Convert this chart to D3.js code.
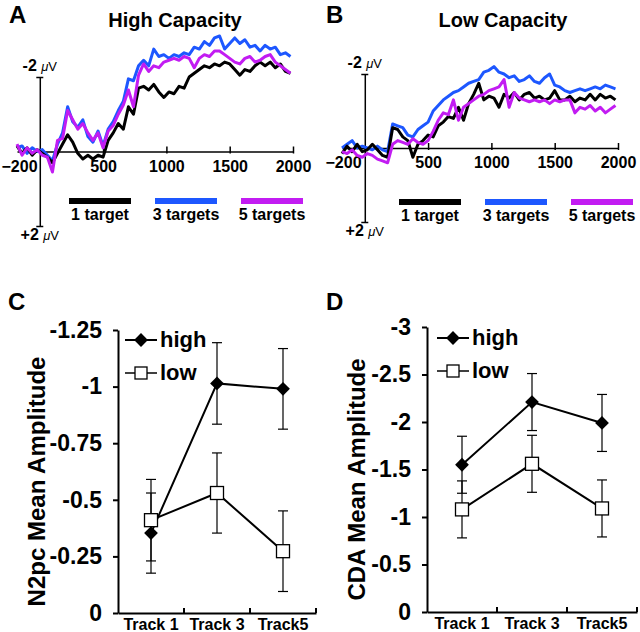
<!DOCTYPE html>
<html><head><meta charset="utf-8">
<script src="https://cdn.jsdelivr.net/npm/d3@7"></script>
<style>body{margin:0;background:#fff}svg{display:block;font-family:"Liberation Sans",Arial,sans-serif}</style>
</head><body><svg id="c" width="640" height="632"></svg>
<script>
// ---------- DATA ----------
const times = [-180,-140,-100,-60,-20,20,60,100,140,180,220,260,300,340,380,420,460,500,540,580,620,660,700,740,780,820,860,900,940,980,1020,1060,1100,1140,1180,1220,1260,1300,1340,1380,1420,1460,1500,1540,1580,1620,1660,1700,1740,1780,1820,1860,1900,1940,1980];
const seriesNames = ["1 target","3 targets","5 targets"];
const seriesColors = ["#000000","#1d57ff","#c21cf2"];
// High capacity (µV, negative plotted up)
const highOne = [-0.15,0.05,-0.1,0.1,-0.05,0.05,0.15,0.3,0.05,-0.2,-0.45,-0.25,0.05,0.2,0.1,0.2,0.1,0.15,-0.3,-0.5,-0.75,-0.6,-1.2,-1.0,-1.7,-1.75,-1.65,-1.8,-1.6,-1.45,-1.6,-1.55,-1.75,-1.7,-2.0,-2.1,-2.2,-2.3,-2.25,-2.35,-2.3,-2.4,-2.35,-2.2,-2.05,-2.2,-2.15,-2.3,-2.4,-2.3,-2.4,-2.25,-2.35,-2.15,-2.1];
const highThree = [-0.1,-0.15,0.05,-0.1,0.0,-0.05,0.1,0.25,-0.2,-0.5,-1.2,-0.8,-0.65,-0.85,-0.4,-0.25,-0.55,-0.15,-0.6,-0.8,-1.1,-1.35,-1.95,-1.9,-2.3,-2.45,-2.3,-2.75,-2.55,-2.6,-2.5,-2.6,-2.55,-2.65,-2.6,-2.8,-2.75,-2.95,-2.85,-3.05,-3.1,-2.75,-2.9,-3.05,-2.9,-3.0,-2.8,-2.85,-2.7,-2.85,-2.75,-2.8,-2.6,-2.65,-2.55];
const highFive = [-0.2,0.1,-0.1,0.05,-0.05,0.1,0.15,0.55,-0.3,-0.35,-1.1,-0.85,-0.6,-0.75,-0.5,-0.3,-0.5,-0.1,-0.55,-0.7,-1.0,-1.25,-1.65,-1.2,-2.05,-2.35,-2.15,-2.3,-2.25,-2.4,-2.45,-2.5,-2.45,-2.55,-2.5,-2.25,-2.5,-2.6,-2.55,-2.7,-2.7,-2.6,-2.5,-2.4,-2.35,-2.5,-2.55,-2.4,-2.45,-2.55,-2.6,-2.4,-2.3,-2.2,-2.1];
// Low capacity
const lowOne = [0.15,-0.05,0.1,-0.1,0.1,0.05,-0.1,0.05,0.2,0.25,-0.55,-0.5,-0.3,-0.2,0.25,-0.1,-0.2,-0.35,-0.3,-0.6,-0.7,-0.85,-0.8,-1.1,-0.75,-1.2,-1.45,-1.75,-1.3,-1.4,-1.35,-1.1,-1.45,-1.35,-1.5,-1.3,-1.45,-1.5,-1.35,-1.4,-1.3,-1.35,-1.55,-1.3,-1.3,-1.4,-1.25,-1.35,-1.3,-1.45,-1.3,-1.45,-1.35,-1.4,-1.3];
const lowThree = [0.0,-0.1,-0.2,0.0,-0.05,0.0,0.05,-0.05,0.05,0.1,-0.65,-0.6,-0.55,-0.35,-0.3,-0.5,-0.6,-0.7,-1.0,-1.15,-1.3,-1.4,-1.5,-1.55,-1.65,-1.75,-1.8,-1.85,-2.05,-2.1,-2.2,-2.05,-2.0,-1.9,-1.95,-1.8,-1.85,-1.95,-1.8,-1.75,-1.9,-2.0,-1.7,-1.65,-1.55,-1.5,-1.55,-1.6,-1.55,-1.6,-1.65,-1.6,-1.7,-1.65,-1.6];
const lowFive = [0.1,0.15,0.05,0.2,0.25,0.15,0.2,0.3,0.35,0.4,-0.1,-0.2,-0.15,-0.1,-0.25,-0.15,-0.1,-0.2,-0.45,-0.75,-0.95,-0.9,-1.3,-0.75,-1.1,-1.2,-1.3,-1.4,-1.45,-1.55,-1.6,-1.65,-1.85,-1.1,-1.5,-1.35,-1.3,-1.25,-1.3,-1.25,-1.3,-1.2,-1.3,-1.25,-1.3,-1.3,-0.95,-1.1,-1.05,-1.15,-1.0,-1.1,-0.95,-1.05,-1.15];
const xTickValues = [-200,500,1000,1500,2000];

// Panels C / D
const tracks = ["Track 1","Track 3","Track5"];
const n2pcHigh = [-0.353,-1.014,-0.99];
const n2pcHighErr = [0.177,0.18,0.178];
const n2pcLow = [-0.41,-0.53,-0.273];
const n2pcLowErr = [0.18,0.177,0.178];
const n2pcTicks = [0,-0.25,-0.5,-0.75,-1,-1.25];
const cdaHigh = [-1.55,-2.21,-1.99];
const cdaHighErr = [0.3,0.3,0.3];
const cdaLow = [-1.08,-1.56,-1.09];
const cdaLowErr = [0.3,0.3,0.3];
const cdaTicks = [0,-0.5,-1,-1.5,-2,-2.5,-3];

// ---------- DRAW ----------
const svg = d3.select("#c");
svg.append("rect").attr("width",640).attr("height",632).attr("fill","#fff");
const FONT = "'Liberation Sans',Arial,sans-serif";

function panelLetter(t,x,y){
  svg.append("text").attr("x",x).attr("y",y).attr("font-size",24).attr("font-weight","bold").attr("fill","#000").text(t);
}

function erpPanel(o){
  const g = svg.append("g");
  const x = d3.scaleLinear().domain([-180,2000]).range([o.x0,o.x1]);
  const y = d3.scaleLinear().domain([-2,2]).range([o.yTop,o.yBot]);
  g.append("text").attr("x",o.titleX).attr("y",27).attr("text-anchor","middle")
   .attr("font-size",20).attr("font-weight","bold").text(o.title);
  const ax = d3.axisBottom(x).tickValues(xTickValues).tickFormat(d3.format("d")).tickSizeInner(-5).tickSizeOuter(0).tickPadding(9);
  const axg = g.append("g").attr("transform",`translate(0,${y(0)})`).call(ax);
  axg.select(".domain").attr("stroke-width",1.5);
  axg.selectAll(".tick line").attr("stroke-width",1.5).attr("y2",-5).attr("y1",2);
  axg.selectAll(".tick text").attr("font-size",16).attr("font-weight","bold").attr("font-family",FONT).attr("fill","#000");
  const first = axg.selectAll(".tick").filter(d=>d===-200);
  first.select("line").remove();
  first.select("text").attr("text-anchor","start").attr("x",o.x0 - x(-200) >= 0 ? o.firstX - x(-200) : 0);
  const ay = d3.axisLeft(y).tickValues([-2,2]).tickFormat("").tickSizeOuter(0).tickSizeInner(3);
  const ayg = g.append("g").attr("transform",`translate(${x(0)},0)`).call(ay);
  ayg.select(".domain").attr("stroke-width",1.5);
  ayg.selectAll(".tick line").attr("x1",3.5).attr("x2",-3.5).attr("stroke-width",1.5);
  function uv(txt,yy){
    const t = g.append("text").attr("x",x(0)).attr("y",yy).attr("text-anchor","middle").attr("font-size",16).attr("font-weight","bold");
    t.append("tspan").text(txt+" ");
    t.append("tspan").attr("font-size",13).attr("font-style","italic").attr("font-weight","normal").text("μ");
    t.append("tspan").attr("font-size",13).attr("font-weight","normal").text("V");
  }
  uv("-2",y(-2)-6);
  uv("+2",y(2)+14);
  const line = d3.line().x((d,i)=>x(times[i])).y(d=>y(d)).curve(d3.curveLinear);
  [1,0,2].forEach(k=>{
    g.append("path").datum(o.series[k]).attr("d",line).attr("fill","none")
     .attr("stroke",seriesColors[k]).attr("stroke-width",3).attr("stroke-linejoin","round");
  });
  seriesNames.forEach((n,k)=>{
    const lx = o.legX[k];
    g.append("line").attr("x1",lx).attr("x2",lx+62).attr("y1",o.legY).attr("y2",o.legY)
     .attr("stroke",seriesColors[k]).attr("stroke-width",6);
    g.append("text").attr("x",lx+31).attr("y",o.legY+19).attr("text-anchor","middle")
     .attr("font-size",16).attr("font-weight","bold").text(n);
  });
}

erpPanel({x0:17,x1:293,yTop:77,yBot:226,title:"High Capacity",titleX:175,firstX:1,
  series:[highOne,highThree,highFive],legX:[69,155,241],legY:201});
erpPanel({x0:342,x1:618,yTop:74,yBot:222,title:"Low Capacity",titleX:503,firstX:325,
  series:[lowOne,lowThree,lowFive],legX:[399,485,571],legY:202});
panelLetter("A",9,23);
panelLetter("B",326,23);

function meanPanel(o){
  const g = svg.append("g");
  const x = d3.scaleBand().domain(tracks).range([o.x0,o.x1]);
  const y = d3.scaleLinear().domain([0,o.yMin]).range([o.yBot,o.yTop]);
  const cx = d=>x(d)+x.bandwidth()/2;
  const ay = d3.axisLeft(y).tickValues(o.ticks).tickFormat(d=>d===0?"0":String(d)).tickSizeOuter(0).tickSizeInner(5).tickPadding(11);
  const ayg = g.append("g").attr("transform",`translate(${o.x0},0)`).call(ay);
  ayg.select(".domain").attr("stroke-width",2);
  ayg.selectAll(".tick line").attr("stroke-width",2);
  ayg.selectAll(".tick text").attr("font-size",23).attr("font-weight","bold").attr("font-family",FONT).attr("fill","#000");
  const ax = d3.axisBottom(x).tickSize(0).tickPadding(6);
  const axg = g.append("g").attr("transform",`translate(0,${o.yBot})`).call(ax);
  axg.select(".domain").attr("stroke-width",2);
  axg.selectAll(".tick text").attr("font-size",16).attr("font-weight","bold").attr("font-family",FONT).attr("fill","#000");
  g.selectAll(".bt").data(tracks).enter().append("line")
   .attr("x1",d=>x(d)+x.bandwidth()).attr("x2",d=>x(d)+x.bandwidth())
   .attr("y1",o.yBot).attr("y2",o.yBot-5).attr("stroke","#000").attr("stroke-width",2);
  g.append("text").attr("transform",`translate(${o.titleX},${(o.yTop+o.yBot)/2+10}) rotate(-90)`)
   .attr("text-anchor","middle").attr("font-size",24).attr("font-weight","bold").text(o.yTitle);
  function err(vals,errs){
    tracks.forEach((t,i)=>{
      const xx = cx(t);
      g.append("line").attr("x1",xx).attr("x2",xx).attr("y1",y(vals[i]-errs[i])).attr("y2",y(vals[i]+errs[i])).attr("stroke","#000").attr("stroke-width",1.2);
      [vals[i]-errs[i],vals[i]+errs[i]].forEach(v=>{
        g.append("line").attr("x1",xx-5).attr("x2",xx+5).attr("y1",y(v)).attr("y2",y(v)).attr("stroke","#000").attr("stroke-width",1.2);
      });
    });
  }
  err(o.high,o.highErr); err(o.low,o.lowErr);
  const line = d3.line().x((d,i)=>cx(tracks[i])).y(d=>y(d));
  g.append("path").datum(o.low).attr("d",line).attr("fill","none").attr("stroke","#000").attr("stroke-width",2);
  g.append("path").datum(o.high).attr("d",line).attr("fill","none").attr("stroke","#000").attr("stroke-width",2);
  const diamond = d3.symbol().type(d3.symbolSquare).size(95);
  function dia(xx,yy){ g.append("path").attr("d",diamond()).attr("transform",`translate(${xx},${yy}) rotate(45)`).attr("fill","#000"); }
  function sq(xx,yy,s){ g.append("rect").attr("x",xx-s/2).attr("y",yy-s/2).attr("width",s).attr("height",s).attr("fill","#fff").attr("stroke","#000").attr("stroke-width",1.3); }
  o.low.forEach((v,i)=>sq(cx(tracks[i]),y(v),13));
  o.high.forEach((v,i)=>dia(cx(tracks[i]),y(v)));
  const lx = o.legX;
  g.append("line").attr("x1",lx).attr("x2",lx+32).attr("y1",o.legY).attr("y2",o.legY).attr("stroke","#000").attr("stroke-width",2);
  dia(lx+16,o.legY);
  g.append("text").attr("x",lx+35).attr("y",o.legY+7).attr("font-size",22).attr("font-weight","bold").text("high");
  g.append("line").attr("x1",lx).attr("x2",lx+32).attr("y1",o.legY+33).attr("y2",o.legY+33).attr("stroke","#000").attr("stroke-width",1.5);
  sq(lx+16,o.legY+33,12);
  g.append("text").attr("x",lx+35).attr("y",o.legY+40).attr("font-size",22).attr("font-weight","bold").text("low");
}

meanPanel({x0:118,x1:316,yTop:330,yBot:613,yMin:-1.25,ticks:n2pcTicks,yTitle:"N2pc Mean Amplitude",titleX:45,
  high:n2pcHigh,highErr:n2pcHighErr,low:n2pcLow,lowErr:n2pcLowErr,legX:125,legY:340});
meanPanel({x0:427,x1:637,yTop:327,yBot:612,yMin:-3,ticks:cdaTicks,yTitle:"CDA Mean Amplitude",titleX:365,
  high:cdaHigh,highErr:cdaHighErr,low:cdaLow,lowErr:cdaLowErr,legX:437,legY:338});
panelLetter("C",8,310);
panelLetter("D",326,310);
</script></body></html>
